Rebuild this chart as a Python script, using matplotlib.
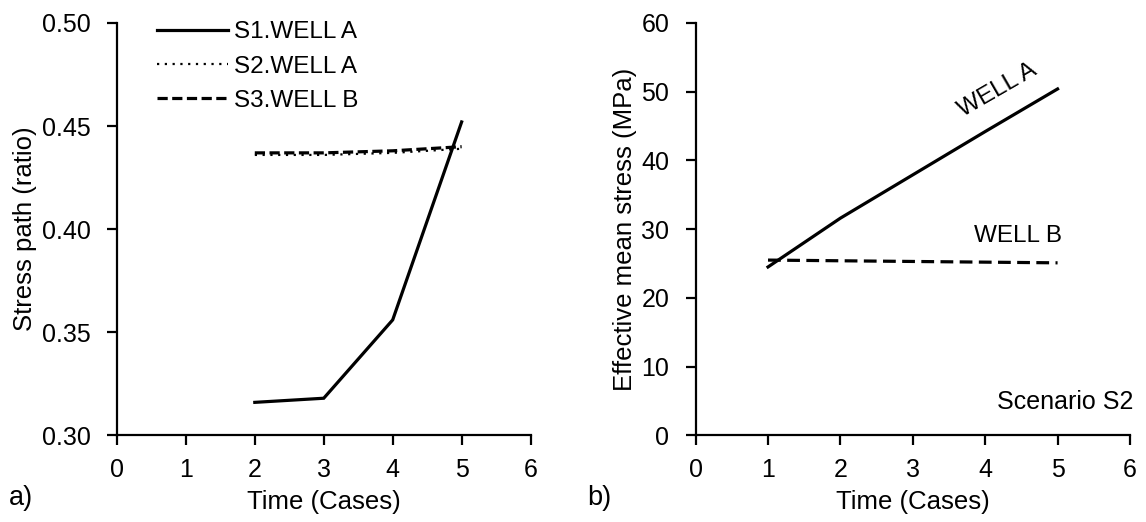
import matplotlib
matplotlib.use("Agg")
import matplotlib.pyplot as plt

plt.rcParams['font.family'] = ['Liberation Sans', 'DejaVu Sans']

# Panel a) data
time_a = [2, 3, 4, 5]
s1_well_a = [0.316, 0.318, 0.356, 0.452]
s2_well_a = [0.436, 0.436, 0.437, 0.439]
s3_well_b = [0.437, 0.437, 0.438, 0.440]

# Panel b) data
time_b = [1, 2, 3, 4, 5]
well_a_stress = [24.5, 31.6, 37.9, 44.2, 50.4]
well_b_stress = [25.5, 25.4, 25.3, 25.2, 25.1]

xticks = [0, 1, 2, 3, 4, 5, 6]
yticks_a = [0.30, 0.35, 0.40, 0.45, 0.50]
yticks_b = [0, 10, 20, 30, 40, 50, 60]

fig = plt.figure(figsize=(11.46, 5.22), dpi=100)
ax1 = fig.add_axes([0.102, 0.166, 0.361, 0.790])
ax2 = fig.add_axes([0.607, 0.166, 0.379, 0.790])

TICK = 18
LAB = 18.5
ANN = 17.5

for ax in (ax1, ax2):
    for s in ('top', 'right'):
        ax.spines[s].set_visible(False)
    for s in ('left', 'bottom'):
        ax.spines[s].set_linewidth(1.6)
    ax.tick_params(direction='out', length=7, width=1.6, labelsize=TICK)
    ax.tick_params(axis='x', pad=9)
    ax.tick_params(axis='y', pad=12)
    ax.set_xlim(0, 6)
    ax.set_xticks(xticks)

ax1.plot(time_a, s1_well_a, color='black', lw=2.3, label='S1.WELL A', solid_joinstyle='miter')
ax1.plot(time_a, s2_well_a, color='black', lw=1.6, ls=(0, (1, 2.5)), label='S2.WELL A')
ax1.plot(time_a, s3_well_b, color='black', lw=2.3, ls=(0, (3.2, 1.4)), label='S3.WELL B')
ax1.set_ylim(0.30, 0.50)
ax1.set_yticks(yticks_a)
ax1.set_yticklabels([f"{v:.2f}" for v in yticks_a])
ax1.set_xlabel('Time (Cases)', fontsize=LAB, labelpad=6)
ax1.set_ylabel('Stress path (ratio)', fontsize=LAB, labelpad=3)
leg = ax1.legend(loc='upper left', bbox_to_anchor=(0.045, 1.057), frameon=False,
                 fontsize=ANN, handlelength=2.9, handletextpad=0.25, labelspacing=0.5)

ax2.plot(time_b, well_a_stress, color='black', lw=2.3)
ax2.plot(time_b, well_b_stress, color='black', lw=2.3, ls=(0, (4, 2)))
ax2.set_ylim(0, 60)
ax2.set_yticks(yticks_b)
ax2.set_xlabel('Time (Cases)', fontsize=LAB, labelpad=6)
ax2.set_ylabel('Effective mean stress (MPa)', fontsize=LAB, labelpad=3)
ax2.text(4.17, 50.2, 'WELL A', fontsize=ANN, rotation=30, ha='center', va='center')
ax2.text(4.45, 29.0, 'WELL B', fontsize=ANN, ha='center', va='center')
ax2.text(6.05, 4.85, 'Scenario S2', fontsize=ANN + 0.5, ha='right', va='center')

fig.text(0.008, 0.046, 'a)', fontsize=LAB + 1, ha='left', va='center')
fig.text(0.512, 0.046, 'b)', fontsize=LAB + 1, ha='left', va='center')

fig.savefig('out.png', dpi=100)
